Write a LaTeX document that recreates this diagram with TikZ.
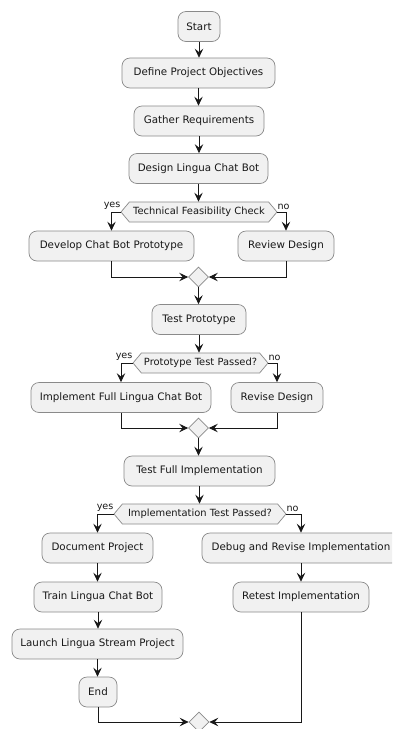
\documentclass[tikz,border=0pt]{standalone}
\usepackage{fontspec}
\setmainfont{DejaVu Sans}
\usetikzlibrary{shapes.geometric,shapes.symbols,arrows.meta}
\definecolor{boxfill}{HTML}{F1F1F1}
\definecolor{boxline}{HTML}{8A8A8A}
\definecolor{ink}{HTML}{181818}
\begin{document}
\begin{tikzpicture}[x=1pt,y=-1pt,
 act/.style={draw=boxline, fill=boxfill, line width=0.7pt, rounded corners=8pt, minimum height=30pt, inner sep=0pt, font=\fontsize{10.3}{12}\selectfont, text=ink},
 dec/.style={shape=signal, signal to=east and west, signal pointer angle=100, draw=boxline, fill=boxfill, line width=0.7pt, minimum height=20pt, inner sep=0pt, font=\fontsize{9.9}{11}\selectfont, text=ink},
 mrg/.style={diamond, draw=boxline, fill=boxfill, line width=0.7pt, minimum width=20pt, minimum height=20pt, inner sep=0pt},
 arr/.style={draw=ink, line width=0.8pt, -{Stealth[length=9pt,width=8.5pt,inset=3.5pt]}},
 lab/.style={font=\fontsize{9.6}{11}\selectfont, text=ink, inner sep=0pt}
]
\fill[white] (0,0) rectangle (392,729);
\useasboundingbox (0,0) rectangle (392,729);
\clip (0,0) rectangle (392,729);

\node[act, minimum width=42pt] (start) at (199,26.5) {Start};
\node[act, minimum width=153pt] (define) at (198.5,73) {Define Project Objectives};
\node[act, minimum width=130pt] (gather) at (199,121) {Gather Requirements};
\node[act, minimum width=139pt] (design) at (198.5,168.5) {Design Lingua Chat Bot};
\node[dec, minimum width=156pt] (d1) at (199,212) {Technical Feasibility Check};
\node[act, minimum width=165pt] (develop) at (111.5,246) {Develop Chat Bot Prototype};
\node[act, minimum width=96pt] (review) at (286,246) {Review Design};
\node[mrg] (m1) at (198.5,277) {};
\node[act, minimum width=94pt] (testp) at (199,319.5) {Test Prototype};
\node[dec, minimum width=135pt] (d2) at (200.5,363) {Prototype Test Passed?};
\node[act, minimum width=180pt] (impl) at (121,397.5) {Implement Full Lingua Chat Bot};
\node[act, minimum width=92pt] (revise) at (277,397.5) {Revise Design};
\node[mrg] (m2) at (198.5,428) {};
\node[act, minimum width=151pt] (testf) at (199.5,471) {Test Full Implementation};
\node[dec, minimum width=172pt] (d3) at (200,514) {Implementation Test Passed?};
\node[act, minimum width=111pt] (doc) at (97.5,548) {Document Project};
\node[act, minimum width=198pt] (debug) at (301,548) {Debug and Revise Implementation};
\node[act, minimum width=128pt] (train) at (98,597) {Train Lingua Chat Bot};
\node[act, minimum width=136pt] (retest) at (301,597) {Retest Implementation};
\node[act, minimum width=171pt] (launch) at (97.5,644) {Launch Lingua Stream Project};
\node[act, minimum width=38pt] (end) at (98,692) {End};
\node[mrg] (m3) at (199,722) {};

\draw[arr] (start.south) -- (start.south |- define.north);
\draw[arr] (define.south) -- (define.south |- gather.north);
\draw[arr] (gather.south) -- (gather.south |- design.north);
\draw[arr] (design.south) -- (design.south |- d1.north);
\draw[arr] (d1.west) -| (develop.north);
\draw[arr] (d1.east) -| (review.north);
\node[lab, anchor=south east, yshift=2pt] (y1) at (d1.west) {yes};
\node[lab, anchor=south west, yshift=2pt] (n1) at (d1.east) {no};
\draw[arr] (develop.south) |- (m1.west);
\draw[arr] (review.south) |- (m1.east);
\draw[arr] (m1.south) -- (m1.south |- testp.north);
\draw[arr] (testp.south) -- (testp.south |- d2.north);
\draw[arr] (d2.west) -| (impl.north);
\draw[arr] (d2.east) -| (revise.north);
\node[lab, anchor=south east, yshift=2pt] (y2) at (d2.west) {yes};
\node[lab, anchor=south west, yshift=2pt] (n2) at (d2.east) {no};
\draw[arr] (impl.south) |- (m2.west);
\draw[arr] (revise.south) |- (m2.east);
\draw[arr] (m2.south) -- (m2.south |- testf.north);
\draw[arr] (testf.south) -- (testf.south |- d3.north);
\draw[arr] (d3.west) -| (doc.north);
\draw[arr] (d3.east) -| (debug.north);
\node[lab, anchor=south east, yshift=2pt] (y3) at (d3.west) {yes};
\node[lab, anchor=south west, yshift=2pt] (n3) at (d3.east) {no};
\draw[arr] (doc.south) -- (doc.south |- train.north);
\draw[arr] (train.south) -- (train.south |- launch.north);
\draw[arr] (launch.south) -- (launch.south |- end.north);
\draw[arr] (debug.south) -- (debug.south |- retest.north);
\draw[arr] (end.south) |- (m3.west);
\draw[arr] (retest.south) |- (m3.east);
\end{tikzpicture}
\end{document}
